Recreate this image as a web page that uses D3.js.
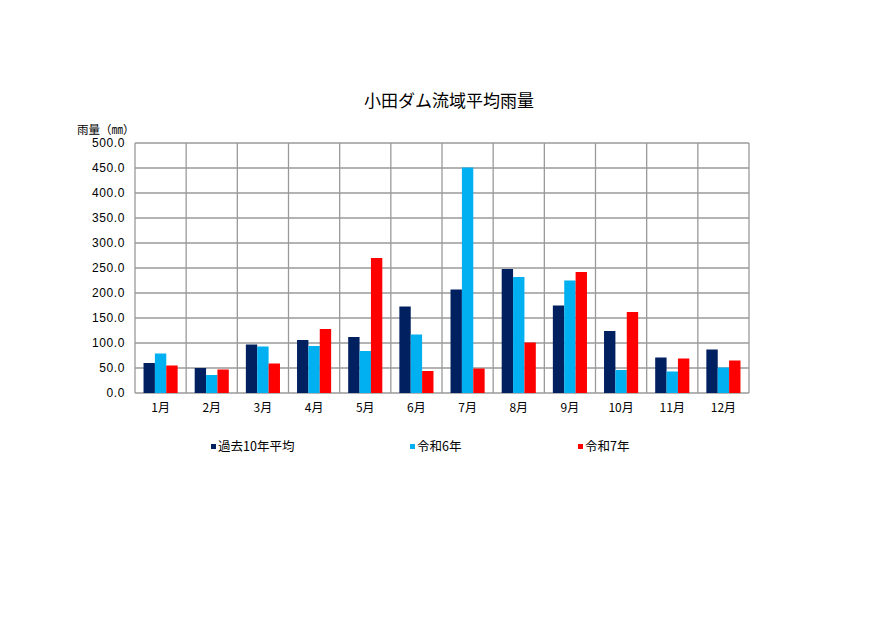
<!DOCTYPE html>
<html>
<head>
<meta charset="utf-8">
<script src="https://cdn.jsdelivr.net/npm/d3@7"></script>
<style>
  body { margin: 0; background: #fff; }
  svg text { font-family: "Noto Sans CJK JP", "Noto Sans", sans-serif; fill: #000; }
</style>
</head>
<body>
<svg id="chart" width="890" height="630"></svg>
<script>
// 小田ダム流域平均雨量 — monthly rainfall (mm)
const months = ['1月', '2月', '3月', '4月', '5月', '6月', '7月', '8月', '9月', '10月', '11月', '12月'];
const seriesNames = ['過去10年平均', '令和6年', '令和7年'];
const avg10 = [60, 50, 97, 106, 112, 173, 207, 248, 175, 124, 71, 87];
const r6 = [79, 36, 93, 94, 84, 117, 451, 232, 225, 46, 43, 51];
const r7 = [55, 47, 59, 128, 270, 44, 49, 101, 242, 162, 69, 65];
const yTicks = [0, 50, 100, 150, 200, 250, 300, 350, 400, 450, 500];
const colors = ['#002060', '#00b0f0', '#ff0000'];

const seriesValues = [avg10, r6, r7];
const rows = months.map((m, i) => ({ month: m, values: seriesValues.map(s => s[i]) }));

const svg = d3.select('#chart');
const plot = { left: 135, right: 749, top: 143, bottom: 393 };

const x = d3.scaleBand()
    .domain(months)
    .range([plot.left, plot.right]);

// cluster of 3 bars with a 150% gap, like the spreadsheet default
const inner = d3.scaleBand()
    .domain(seriesNames)
    .range([0, x.bandwidth()])
    .paddingInner(0)
    .paddingOuter(0.75);

const y = d3.scaleLinear()
    .domain([0, 500])
    .range([plot.bottom, plot.top]);

// horizontal gridlines
svg.append('g')
    .selectAll('line')
    .data(yTicks)
    .enter()
    .append('line')
    .attr('x1', plot.left)
    .attr('x2', plot.right)
    .attr('y1', d => y(d))
    .attr('y2', d => y(d))
    .attr('stroke', '#9a9a9a')
    .attr('stroke-width', 1.3);

// vertical category dividers
svg.append('g')
    .selectAll('line')
    .data(months.concat(['end']))
    .enter()
    .append('line')
    .attr('x1', d => d === 'end' ? plot.right : x(d))
    .attr('x2', d => d === 'end' ? plot.right : x(d))
    .attr('y1', plot.top)
    .attr('y2', plot.bottom)
    .attr('stroke', '#9a9a9a')
    .attr('stroke-width', 1.3);

// bars
const groups = svg.append('g')
    .selectAll('g')
    .data(rows)
    .enter()
    .append('g')
    .attr('transform', d => `translate(${x(d.month)},0)`);

groups.selectAll('rect')
    .data(d => d.values.map((v, k) => ({ name: seriesNames[k], value: v, k })))
    .enter()
    .append('rect')
    .attr('x', d => inner(d.name))
    .attr('width', inner.bandwidth())
    .attr('y', d => y(d.value))
    .attr('height', d => y(0) - y(d.value))
    .attr('fill', d => colors[d.k]);

// y axis labels
const yAxis = d3.axisLeft(y)
    .tickValues(yTicks)
    .tickFormat(d3.format('.1f'))
    .tickSize(0)
    .tickPadding(10);

svg.append('g')
    .attr('transform', `translate(${plot.left},0)`)
    .call(yAxis)
    .call(g => g.select('.domain').remove())
    .selectAll('text')
    .attr('font-size', 12)
    .style('font-family', '"Liberation Sans", sans-serif')
    .attr('letter-spacing', 0.6);

// x axis labels
const xAxis = d3.axisBottom(x).tickSize(0).tickPadding(10);
svg.append('g')
    .attr('transform', `translate(0,${plot.bottom})`)
    .call(xAxis)
    .call(g => g.select('.domain').remove())
    .selectAll('text')
    .attr('font-size', 12);

// title
svg.append('text')
    .attr('x', 449)
    .attr('y', 107)
    .attr('text-anchor', 'middle')
    .attr('font-size', 17)
    .text('小田ダム流域平均雨量');

// y axis title
svg.append('text')
    .attr('x', 77)
    .attr('y', 134)
    .attr('font-size', 11.5)
    .text('雨量（㎜）');

// legend
const legendX = [211, 410, 578];
const legend = svg.append('g')
    .selectAll('g')
    .data(seriesNames)
    .enter()
    .append('g')
    .attr('transform', (d, i) => `translate(${legendX[i]},447)`);

legend.append('rect')
    .attr('x', 0)
    .attr('y', -3)
    .attr('width', 5)
    .attr('height', 5)
    .attr('fill', (d, i) => colors[i]);

legend.append('text')
    .attr('x', 7)
    .attr('y', 0)
    .attr('dy', '0.35em')
    .attr('font-size', 12.5)
    .text(d => d);
</script>
</body>
</html>
